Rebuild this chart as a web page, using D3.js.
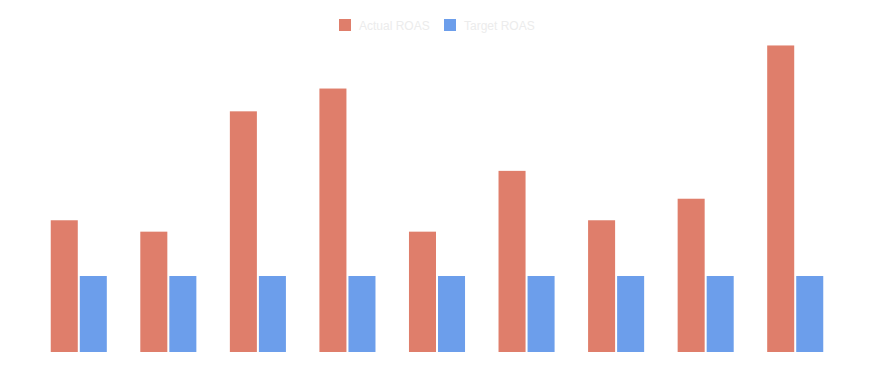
<!DOCTYPE html>
<html lang="en">
<head>
    <meta charset="UTF-8">
    <title>Actual vs Target ROAS</title>
    <script src="https://d3js.org/d3.v7.min.js"></script>
    <style>
        body {
            margin: 0;
            padding: 0;
            background: #ffffff;
            font-family: 'Liberation Sans', Arial, sans-serif;
        }
    </style>
</head>
<body>
    <div id="chart"></div>

    <script>
        const categories = ["C1", "C2", "C3", "C4", "C5", "C6", "C7", "C8", "C9"];
        const seriesNames = ["Actual ROAS", "Target ROAS"];
        const actualRoas = [5.2, 4.75, 9.5, 10.4, 4.75, 7.15, 5.2, 6.05, 12.1];
        const targetRoas = [3, 3, 3, 3, 3, 3, 3, 3, 3];
        const colors = ["#df7e6b", "#6c9eeb"];

        const width = 874;
        const height = 371;

        const rows = categories.map((c, i) => ({
            category: c,
            values: [actualRoas[i], targetRoas[i]]
        }));

        const svg = d3.select("#chart")
            .append("svg")
            .attr("width", width)
            .attr("height", height);

        const x0 = d3.scaleBand()
            .domain(categories)
            .range([34, 840])
            .paddingInner(0.374)
            .paddingOuter(0.187);

        const x1 = d3.scaleBand()
            .domain(seriesNames)
            .range([0, x0.bandwidth()])
            .paddingInner(0.069);

        const y = d3.scaleLinear()
            .domain([0, 12])
            .range([352, 48]);

        const group = svg.selectAll("g.group")
            .data(rows)
            .enter().append("g")
            .attr("class", "group")
            .attr("transform", d => `translate(${x0(d.category)},0)`);

        group.selectAll("rect")
            .data(d => d.values.map((v, i) => ({ key: seriesNames[i], value: v, idx: i })))
            .enter().append("rect")
            .attr("x", d => x1(d.key))
            .attr("y", d => y(d.value))
            .attr("width", x1.bandwidth())
            .attr("height", d => y(0) - y(d.value))
            .attr("fill", d => colors[d.idx]);

        // legend
        const legendPos = [339, 444];
        const legend = svg.selectAll("g.legend")
            .data(seriesNames)
            .enter().append("g")
            .attr("class", "legend")
            .attr("transform", (d, i) => `translate(${legendPos[i]},19)`);

        legend.append("rect")
            .attr("width", 12)
            .attr("height", 12)
            .attr("fill", (d, i) => colors[i]);

        legend.append("text")
            .attr("x", 20)
            .attr("y", 10.5)
            .attr("font-size", 12)
            .attr("fill", "#ececec")
            .text(d => d);
    </script>
</body>
</html>
